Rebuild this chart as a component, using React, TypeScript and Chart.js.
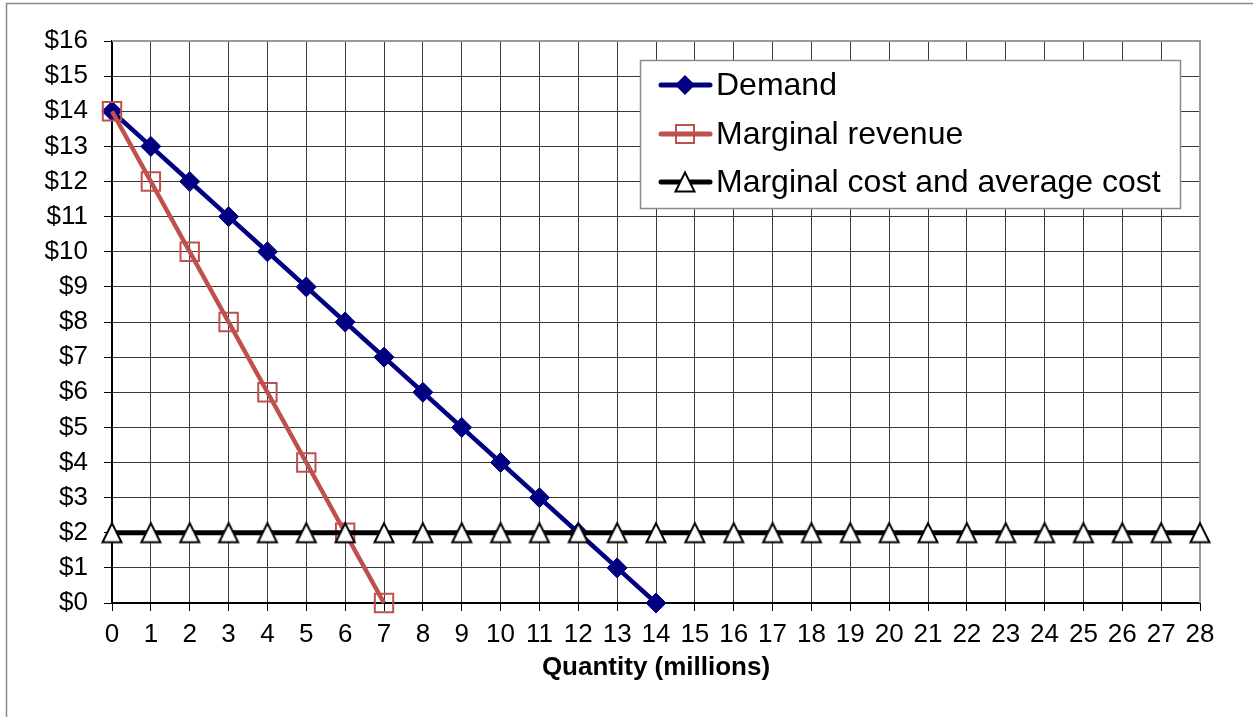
import React, { useEffect, useRef } from 'react';
import { Chart, registerables } from 'chart.js';

Chart.register(...registerables);

// ---- Data ----
const demandQty = [0, 1, 2, 3, 4, 5, 6, 7, 8, 9, 10, 11, 12, 13, 14];
const demandPrice = [14, 13, 12, 11, 10, 9, 8, 7, 6, 5, 4, 3, 2, 1, 0];
const mrQty = [0, 1, 2, 3, 4, 5, 6, 7];
const mrPrice = [14, 12, 10, 8, 6, 4, 2, 0];
const mcQty = [0, 1, 2, 3, 4, 5, 6, 7, 8, 9, 10, 11, 12, 13, 14, 15, 16, 17, 18, 19, 20, 21, 22, 23, 24, 25, 26, 27, 28];
const mcPrice = [2, 2, 2, 2, 2, 2, 2, 2, 2, 2, 2, 2, 2, 2, 2, 2, 2, 2, 2, 2, 2, 2, 2, 2, 2, 2, 2, 2, 2];
const seriesNames = ['Demand', 'Marginal revenue', 'Marginal cost and average cost'];
const xAxisTitle = 'Quantity (millions)';
const xMin = 0;
const xMax = 28;
const yMin = 0;
const yMax = 16;

const FONT = '"Liberation Sans", Arial, Helvetica, sans-serif';
const NAVY = '#000080';
const RED = '#C0504D';

function makeTriangle(): HTMLCanvasElement {
  const c = document.createElement('canvas');
  c.width = 24;
  c.height = 24;
  const g = c.getContext('2d')!;
  g.beginPath();
  g.moveTo(12, 2.5);
  g.lineTo(2.5, 21.5);
  g.lineTo(21.5, 21.5);
  g.closePath();
  g.fillStyle = '#ffffff';
  g.fill();
  g.lineWidth = 2;
  g.strokeStyle = '#000000';
  g.lineJoin = 'miter';
  g.stroke();
  return c;
}

export default function App() {
  const ref = useRef<HTMLCanvasElement | null>(null);

  useEffect(() => {
    const canvas = ref.current;
    if (!canvas) return;
    const tri = makeTriangle();

    const framePlugin = {
      id: 'frame',
      beforeDraw(chart: any) {
        const ctx = chart.ctx;
        ctx.save();
        ctx.fillStyle = '#ffffff';
        ctx.fillRect(0, 0, chart.width, chart.height);
        ctx.strokeStyle = '#8a8a8a';
        ctx.lineWidth = 1.5;
        ctx.beginPath();
        ctx.moveTo(6.5, chart.height + 5);
        ctx.lineTo(6.5, 3.5);
        ctx.lineTo(chart.width + 5, 3.5);
        ctx.stroke();
        ctx.restore();
      },
      beforeDatasetsDraw(chart: any) {
        const { ctx, chartArea } = chart;
        ctx.save();
        ctx.strokeStyle = '#999999';
        ctx.lineWidth = 2;
        ctx.beginPath();
        ctx.moveTo(chartArea.left, chartArea.top);
        ctx.lineTo(chartArea.right, chartArea.top);
        ctx.lineTo(chartArea.right, chartArea.bottom);
        ctx.stroke();
        ctx.restore();
      },
      afterDraw(chart: any) {
        const ctx = chart.ctx;
        ctx.save();
        // legend box
        const bx = 640.5, by = 60.5, bw = 540, bh = 148;
        ctx.fillStyle = '#ffffff';
        ctx.fillRect(bx, by, bw, bh);
        ctx.strokeStyle = '#8a8a8a';
        ctx.lineWidth = 1.5;
        ctx.strokeRect(bx, by, bw, bh);
        const rows = [85, 134, 182];
        const colors = [NAVY, RED, '#000000'];
        rows.forEach((ry, i) => {
          ctx.strokeStyle = colors[i];
          ctx.lineWidth = 5;
          ctx.lineCap = 'round';
          ctx.beginPath();
          ctx.moveTo(661, ry);
          ctx.lineTo(710, ry);
          ctx.stroke();
          const mx = 685;
          if (i === 0) {
            ctx.fillStyle = NAVY;
            ctx.beginPath();
            ctx.moveTo(mx - 10, ry);
            ctx.lineTo(mx, ry - 10);
            ctx.lineTo(mx + 10, ry);
            ctx.lineTo(mx, ry + 10);
            ctx.closePath();
            ctx.fill();
          } else if (i === 1) {
            ctx.strokeStyle = RED;
            ctx.lineWidth = 2;
            ctx.strokeRect(mx - 9, ry - 9, 18, 18);
          } else {
            ctx.drawImage(tri, mx - 12, ry - 12);
          }
          ctx.fillStyle = '#000000';
          ctx.font = `32px ${FONT}`;
          ctx.textBaseline = 'middle';
          ctx.textAlign = 'left';
          ctx.fillText(seriesNames[i], 716, ry + 1);
        });
        ctx.restore();
      },
    };

    const chart = new Chart(canvas, {
      type: 'line',
      data: {
        datasets: [
          {
            label: seriesNames[0],
            data: demandQty.map((q, i) => ({ x: q, y: demandPrice[i] })),
            borderColor: NAVY,
            backgroundColor: NAVY,
            borderWidth: 4.5,
            pointStyle: 'rectRot',
            pointRadius: 10,
            pointHoverRadius: 10,
            pointBackgroundColor: NAVY,
            pointBorderColor: NAVY,
            pointBorderWidth: 1,
            tension: 0,
            clip: false,
            order: 3,
          },
          {
            label: seriesNames[1],
            data: mrQty.map((q, i) => ({ x: q, y: mrPrice[i] })),
            borderColor: RED,
            backgroundColor: 'rgba(0,0,0,0)',
            borderWidth: 4.5,
            pointStyle: 'rect',
            pointRadius: 13,
            pointHoverRadius: 13,
            pointBackgroundColor: 'rgba(0,0,0,0)',
            pointBorderColor: RED,
            pointBorderWidth: 2,
            tension: 0,
            clip: false,
            order: 2,
          },
          {
            label: seriesNames[2],
            data: mcQty.map((q, i) => ({ x: q, y: mcPrice[i] })),
            borderColor: '#000000',
            backgroundColor: '#ffffff',
            borderWidth: 5,
            pointStyle: tri as any,
            pointRadius: 11,
            pointHoverRadius: 11,
            tension: 0,
            clip: false,
            order: 1,
          },
        ],
      },
      options: {
        animation: false,
        responsive: false,
        maintainAspectRatio: false,
        devicePixelRatio: 1,
        events: [],
        layout: { padding: { left: 0, right: 53, top: 41, bottom: 0 } },
        plugins: {
          legend: { display: false },
          tooltip: { enabled: false },
        },
        scales: {
          x: {
            type: 'linear',
            min: xMin,
            max: xMax,
            afterFit(scale: any) {
              scale.height = 114;
            },
            ticks: {
              stepSize: 1,
              autoSkip: false,
              maxRotation: 0,
              padding: 8,
              color: '#000000',
              font: { family: FONT, size: 26 },
            },
            grid: {
              color: '#3a3a3a',
              lineWidth: 1,
              tickLength: 8,
              tickColor: '#000000',
            },
            border: { color: '#000000', width: 2 },
            title: {
              display: true,
              text: xAxisTitle,
              color: '#000000',
              font: { family: FONT, size: 26, weight: 'bold' },
              padding: { top: 0, bottom: 34 },
            },
          },
          y: {
            type: 'linear',
            min: yMin,
            max: yMax,
            afterFit(scale: any) {
              scale.width = 112;
            },
            ticks: {
              stepSize: 1,
              autoSkip: false,
              padding: 16,
              color: '#000000',
              font: { family: FONT, size: 26 },
              callback: (v: any) => '$' + v,
            },
            grid: {
              color: '#3a3a3a',
              lineWidth: 1,
              tickLength: 8,
              tickColor: '#000000',
            },
            border: { color: '#000000', width: 2 },
          },
        },
      },
      plugins: [framePlugin],
    } as any);

    return () => chart.destroy();
  }, []);

  return (
    <div style={{ position: 'fixed', left: 0, top: 0, width: 1253, height: 717, background: '#fff' }}>
      <canvas ref={ref} width={1253} height={717} style={{ display: 'block', width: 1253, height: 717 }} />
    </div>
  );
}
